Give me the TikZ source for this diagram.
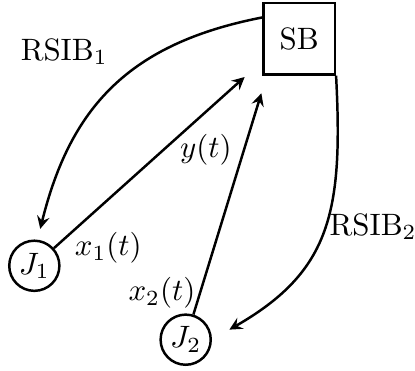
\documentclass[tikz,border=0pt]{standalone}
\usetikzlibrary{arrows}
\begin{document}
\begin{tikzpicture}[>=stealth, thick,
    station/.style={draw, minimum size=0.81cm},
    jammer/.style={draw, circle, minimum size=0.57cm, inner sep=0.5pt}]
    \useasboundingbox (0,0) rectangle (4.716,-4.205);
    \node[station] (SB) at (3.40,-0.44){SB};
    \node[jammer] (J1) at (0.39,-3.02){$J_1$};
    \node[jammer] (J2) at (2.11,-3.86){$J_2$};
        \coordinate (ytip) at (2.78,-0.875);
        \coordinate (xtip) at (2.97,-1.06);
    % links to the base
    \draw[->] (J1) -- (ytip);
    \draw[->] (J2) -- (xtip);
    \draw[->, shorten >=3.6pt] (SB.150) to[out=191, in=76, looseness=1.1] (J1.83);
    \draw[->, shorten >=6.5pt] (SB.south east) to[out=-87, in=30, looseness=1.2] (J2.east);
    % labels
    \node (r1) at (0.73,-0.59){$\mathrm{RSIB}_1$};
    \node (r2) at (4.24,-2.58){$\mathrm{RSIB}_2$};
    \node (y) at (2.34,-1.70){$y(t)$};
    \node (x1) at (1.23,-2.82){$x_1(t)$};
    \node (x2) at (1.84,-3.33){$x_2(t)$};
\end{tikzpicture}
\end{document}
